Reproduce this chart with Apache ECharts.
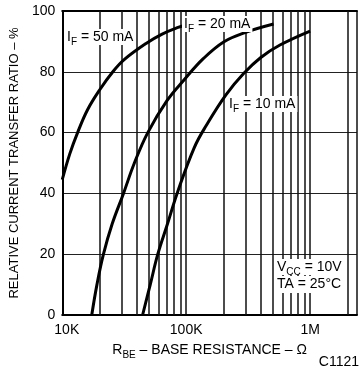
<!DOCTYPE html>
<html>
<head>
<meta charset="utf-8">
<script src="https://cdn.jsdelivr.net/npm/echarts@6/dist/echarts.min.js"></script>
<style>
  html, body { margin: 0; padding: 0; background: #fff; }
  #chart { width: 360px; height: 367px; }
</style>
</head>
<body>
<div id="chart"></div>
<script>
// curve data: [R_BE ohms, ratio %]
var curve50mA = [[10000, 44.5], [11500, 53], [13300, 60], [16000, 67.5], [20000, 74], [25600, 80], [31600, 84], [47800, 89.4], [64000, 92.4], [86000, 94.6], [100000, 95.4]];
var curve20mA = [[17300, 0], [19050, 10], [21500, 20], [25300, 30], [31200, 40], [38200, 50], [49000, 60], [70000, 70.5], [96000, 77.3], [138000, 84.4], [202000, 89.9], [298000, 92.9], [507000, 95.7]];
var curve10mA = [[44500, 0], [51300, 10], [59000, 20], [70700, 30], [84500, 40], [116000, 55], [146000, 62.5], [210000, 72.5], [292000, 79.5], [400000, 84.7], [571000, 88.8], [1000000, 93.4]];
// intermediate decade lines
var minorLines = [20000, 30000, 40000, 50000, 60000, 70000, 80000, 90000,
                  200000, 300000, 400000, 500000, 600000, 700000, 800000, 900000, 2000000];
var xTickLabels = {10000: '10K', 100000: '100K', 1000000: '1M'};
var yTicks = [0, 20, 40, 60, 80, 100];

var FONT = "'Liberation Sans', Arial, sans-serif";

// 带下标的文字
function subRich(size){
    return {
        a: {fontSize: size, lineHeight: size, verticalAlign: 'top', fontFamily: FONT, color: '#000'},
        s: {fontSize: size - 4, lineHeight: size - 4, padding: [7, 0, 0, 0], verticalAlign: 'top', fontFamily: FONT, color: '#000'}
    };
}
function noteText(x, y, txt, size){
    return {
        type: 'text', x: x, y: y, z: 100,
        style: {
            text: txt,
            rich: {
                a: {fontSize: size, lineHeight: size, verticalAlign: 'top', fontFamily: FONT, fill: '#000'},
                s: {fontSize: size - 4, lineHeight: size - 4, padding: [7, 0, 0, 0], verticalAlign: 'top', fontFamily: FONT, fill: '#000'}
            },
            backgroundColor: '#fff',
            padding: [1, 2, 1, 2]
        }
    };
}

var myChart = echarts.init(document.getElementById('chart'));
var curveStyle = {color: '#000', width: 3};

var option = {
    animation: false,
    backgroundColor: '#fff',
    grid: {left: 52, top: 11, right: 0, bottom: 52},
    xAxis: [{
        type: 'log',
        logBase: 10,
        min: 10000,
        max: 2390000,
        axisLine: {show: true, lineStyle: {color: '#000', width: 2}},
        axisTick: {show: false},
        splitLine: {show: true, lineStyle: {color: '#111', width: 1.5}},
        axisLabel: {
            margin: 8,
            fontFamily: FONT,
            fontSize: 14,
            color: '#000',
            formatter: function(v){
                var t = xTickLabels[Math.round(v)] || '';
                return v < 20000 ? '{p|' + t + '}' : t;
            },
            rich: {p: {padding: [0, 0, 0, 9], fontFamily: FONT, fontSize: 14, color: '#000'}}
        },
        name: '{a|R}{s|BE}{a| – BASE RESISTANCE – Ω}',
        nameLocation: 'middle',
        nameGap: 28,
        nameTextStyle: {rich: subRich(14)}
    }, {
        type: 'log',
        logBase: 10,
        min: 10000,
        max: 2390000,
        position: 'top',
        axisLine: {show: true, lineStyle: {color: '#000', width: 2}},
        axisTick: {show: false},
        axisLabel: {show: false},
        splitLine: {show: false}
    }],
    yAxis: {
        type: 'value',
        min: yTicks[0],
        max: yTicks[yTicks.length - 1],
        interval: 20,
        axisLine: {show: true, lineStyle: {color: '#000', width: 2}},
        axisTick: {show: false},
        splitLine: {show: true, lineStyle: {color: '#222', width: 1.2}},
        axisLabel: {margin: 7, fontFamily: FONT, fontSize: 14, color: '#000'},
        name: 'RELATIVE CURRENT TRANSFER RATIO – %',
        nameLocation: 'middle',
        nameGap: 27,
        nameRotate: 90,
        nameTextStyle: {fontFamily: FONT, fontSize: 13, color: '#000'}
    },
    series: [
        {
            name: '50mA', type: 'line', data: curve50mA, smooth: 0.4,
            symbol: 'none', lineStyle: curveStyle, z: 5,
            markLine: {
                silent: true,
                symbol: ['none', 'none'],
                label: {show: false},
                lineStyle: {color: '#111', width: 1.5, type: 'solid'},
                data: minorLines.map(function(v){ return {xAxis: v}; }),
                z: 1
            }
        },
        {name: '20mA', type: 'line', data: curve20mA, smooth: 0.4, symbol: 'none', lineStyle: curveStyle, z: 5},
        {name: '10mA', type: 'line', data: curve10mA, smooth: 0.4, symbol: 'none', lineStyle: curveStyle, z: 5}
    ],
    graphic: [
        noteText(65, 29, '{a|I}{s|F}{a| = 50 mA}', 14),
        noteText(182, 16, '{a|I}{s|F}{a| = 20 mA}', 14),
        noteText(227, 96, '{a|I}{s|F}{a| = 10 mA}', 14),
        noteText(275, 259, '{a|V}{s|CC}{a| = 10V}', 14),
        {
            type: 'text', x: 277, y: 276, z: 100,
            style: {text: 'TA = 25°C', font: '14px ' + FONT, fill: '#000', backgroundColor: '#fff', padding: [1, 2, 2, 0]}
        },
        {
            type: 'text', x: 359, y: 355, z: 100,
            style: {text: 'C1121', font: '14px ' + FONT, fill: '#000', align: 'right'}
        }
    ]
};
myChart.setOption(option);
window.onresize = function(){
    myChart.resize();
}
</script>
</body>
</html>
